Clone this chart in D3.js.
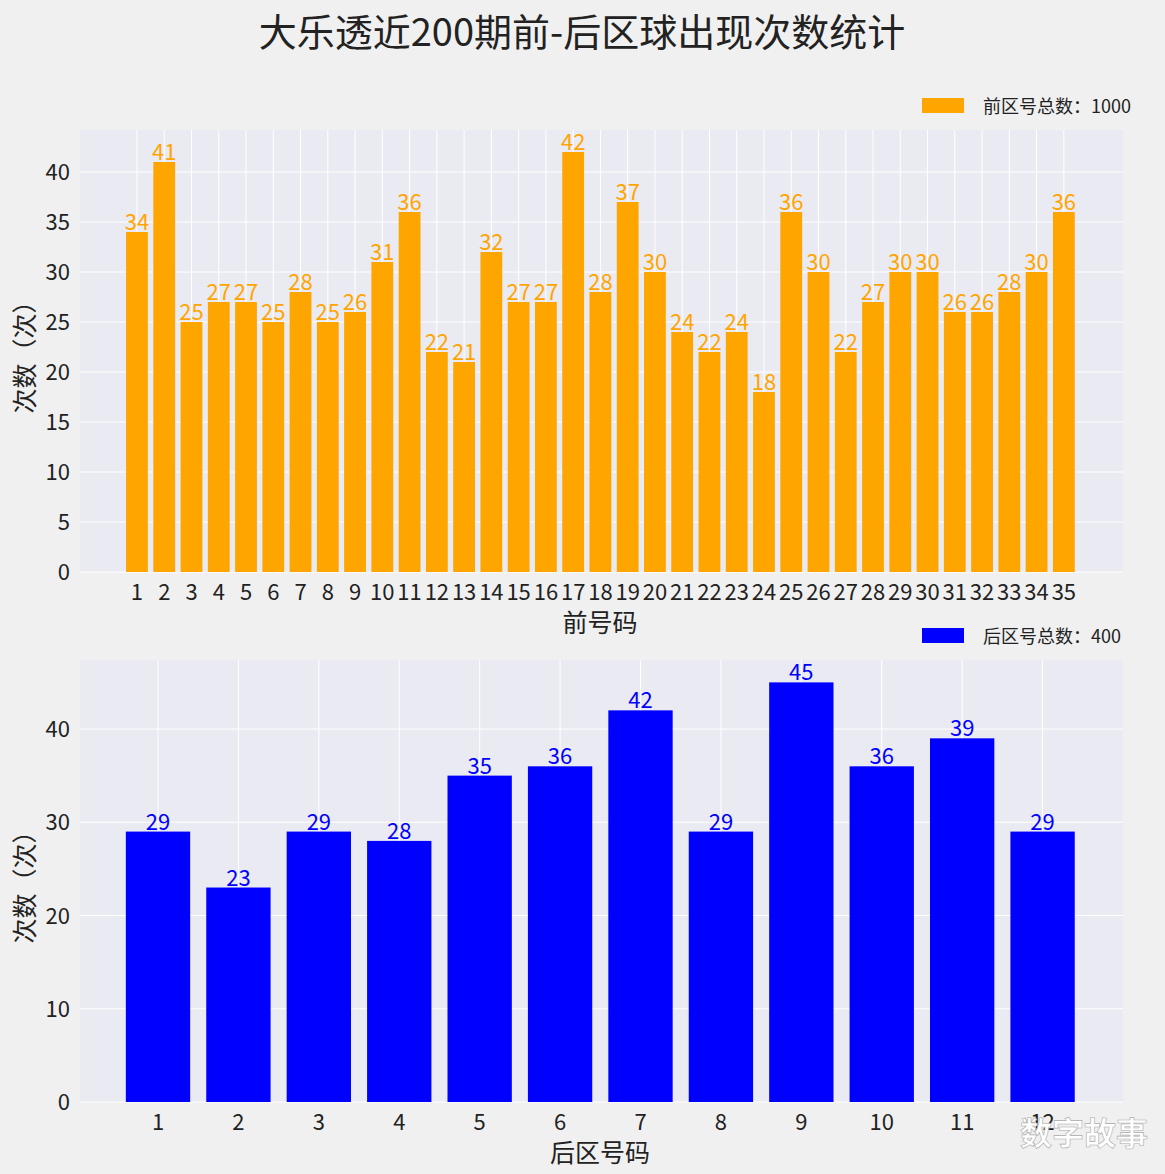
<!DOCTYPE html><html><head><meta charset="utf-8">
<script src="https://cdn.jsdelivr.net/npm/d3@7"></script>
<style>body{margin:0;background:#f0f0f0}svg{font-family:"Noto Sans CJK SC","DejaVu Sans",sans-serif}</style></head><body>
<svg id="c" width="1165" height="1174"></svg>
<script>
const frontLabels = d3.range(1,36).map(String);
const frontValues = [34,41,25,27,27,25,28,25,26,31,36,22,21,32,27,27,42,28,37,30,24,22,24,18,36,30,22,27,30,30,26,26,28,30,36];
const backLabels = d3.range(1,13).map(String);
const backValues = [29,23,29,28,35,36,42,29,45,36,39,29];
const frontTicks = [0,5,10,15,20,25,30,35,40];
const backTicks = [0,10,20,30,40];

const svg = d3.select("#c");
svg.append("rect").attr("width",1165).attr("height",1174).attr("fill","#f0f0f0");
svg.append("text").attr("x",582).attr("y",46).attr("text-anchor","middle").attr("font-size",38).attr("fill","#222").text("大乐透近200期前-后区球出现次数统计");

function panel(o){
  const g = svg.append("g");
  const x = d3.scaleLinear().domain(o.xd).range([80,1123]);
  const y = d3.scaleLinear().domain([0,o.ymax]).range([o.bottom,o.top]);
  g.append("rect").attr("x",80).attr("y",o.top).attr("width",1043).attr("height",o.bottom-o.top).attr("fill","#eaeaf2");
  const step = x(1)-x(0);
  g.selectAll(".gy").data(o.ticks).join("line").attr("x1",80).attr("x2",1123).attr("y1",d=>y(d)).attr("y2",d=>y(d)).attr("stroke","#fff").attr("stroke-width",1);
  g.selectAll(".gx").data(o.labels).join("line").attr("x1",(d,i)=>x(i)).attr("x2",(d,i)=>x(i)).attr("y1",o.top).attr("y2",o.bottom).attr("stroke","#fff").attr("stroke-width",1);
  g.selectAll(".b").data(o.values).join("rect").attr("x",(d,i)=>x(i)-step*0.4).attr("width",step*0.8).attr("y",d=>y(d)).attr("height",d=>o.bottom-y(d)).attr("fill",o.color);
  g.selectAll(".v").data(o.values).join("text").attr("x",(d,i)=>x(i)).attr("y",d=>y(d)-2).attr("text-anchor","middle").attr("font-size",22).attr("fill",o.color).text(d=>d);
  g.selectAll(".xt").data(o.labels).join("text").attr("x",(d,i)=>x(i)).attr("y",o.bottom+28).attr("text-anchor","middle").attr("font-size",22).attr("fill","#222").text(d=>d);
  g.selectAll(".yt").data(o.ticks).join("text").attr("x",70).attr("y",d=>y(d)+8).attr("text-anchor","end").attr("font-size",22).attr("fill","#222").text(d=>d);
  g.append("text").attr("x",600).attr("y",o.bottom+60).attr("text-anchor","middle").attr("font-size",25).attr("fill","#222").text(o.xlabel);
  g.append("text").attr("transform",`translate(34,${(o.top+o.bottom)/2}) rotate(-90)`).attr("text-anchor","middle").attr("font-size",25).attr("fill","#222").text("次数（次）");
  g.append("rect").attr("x",922).attr("y",o.legY-8).attr("width",42).attr("height",15).attr("fill",o.color);
  g.append("text").attr("x",983).attr("y",o.legY+7).attr("font-size",18).attr("fill","#222").text(o.leg);
}
panel({labels:frontLabels,values:frontValues,ticks:frontTicks,xd:[-2.09,36.17],ymax:44.2,top:130,bottom:572,color:"orange",xlabel:"前号码",legY:106,leg:"前区号总数：1000"});
panel({labels:backLabels,values:backValues,ticks:backTicks,xd:[-0.97,12.0],ymax:47.4,top:660,bottom:1102,color:"blue",xlabel:"后区号码",legY:636,leg:"后区号总数：400"});
svg.append("text").attr("x",1148).attr("y",1145).attr("text-anchor","end").attr("font-size",32).attr("font-weight","bold").attr("fill","#fff").attr("stroke","#aaa").attr("stroke-width",0.6).text("数字故事");
</script></body></html>
